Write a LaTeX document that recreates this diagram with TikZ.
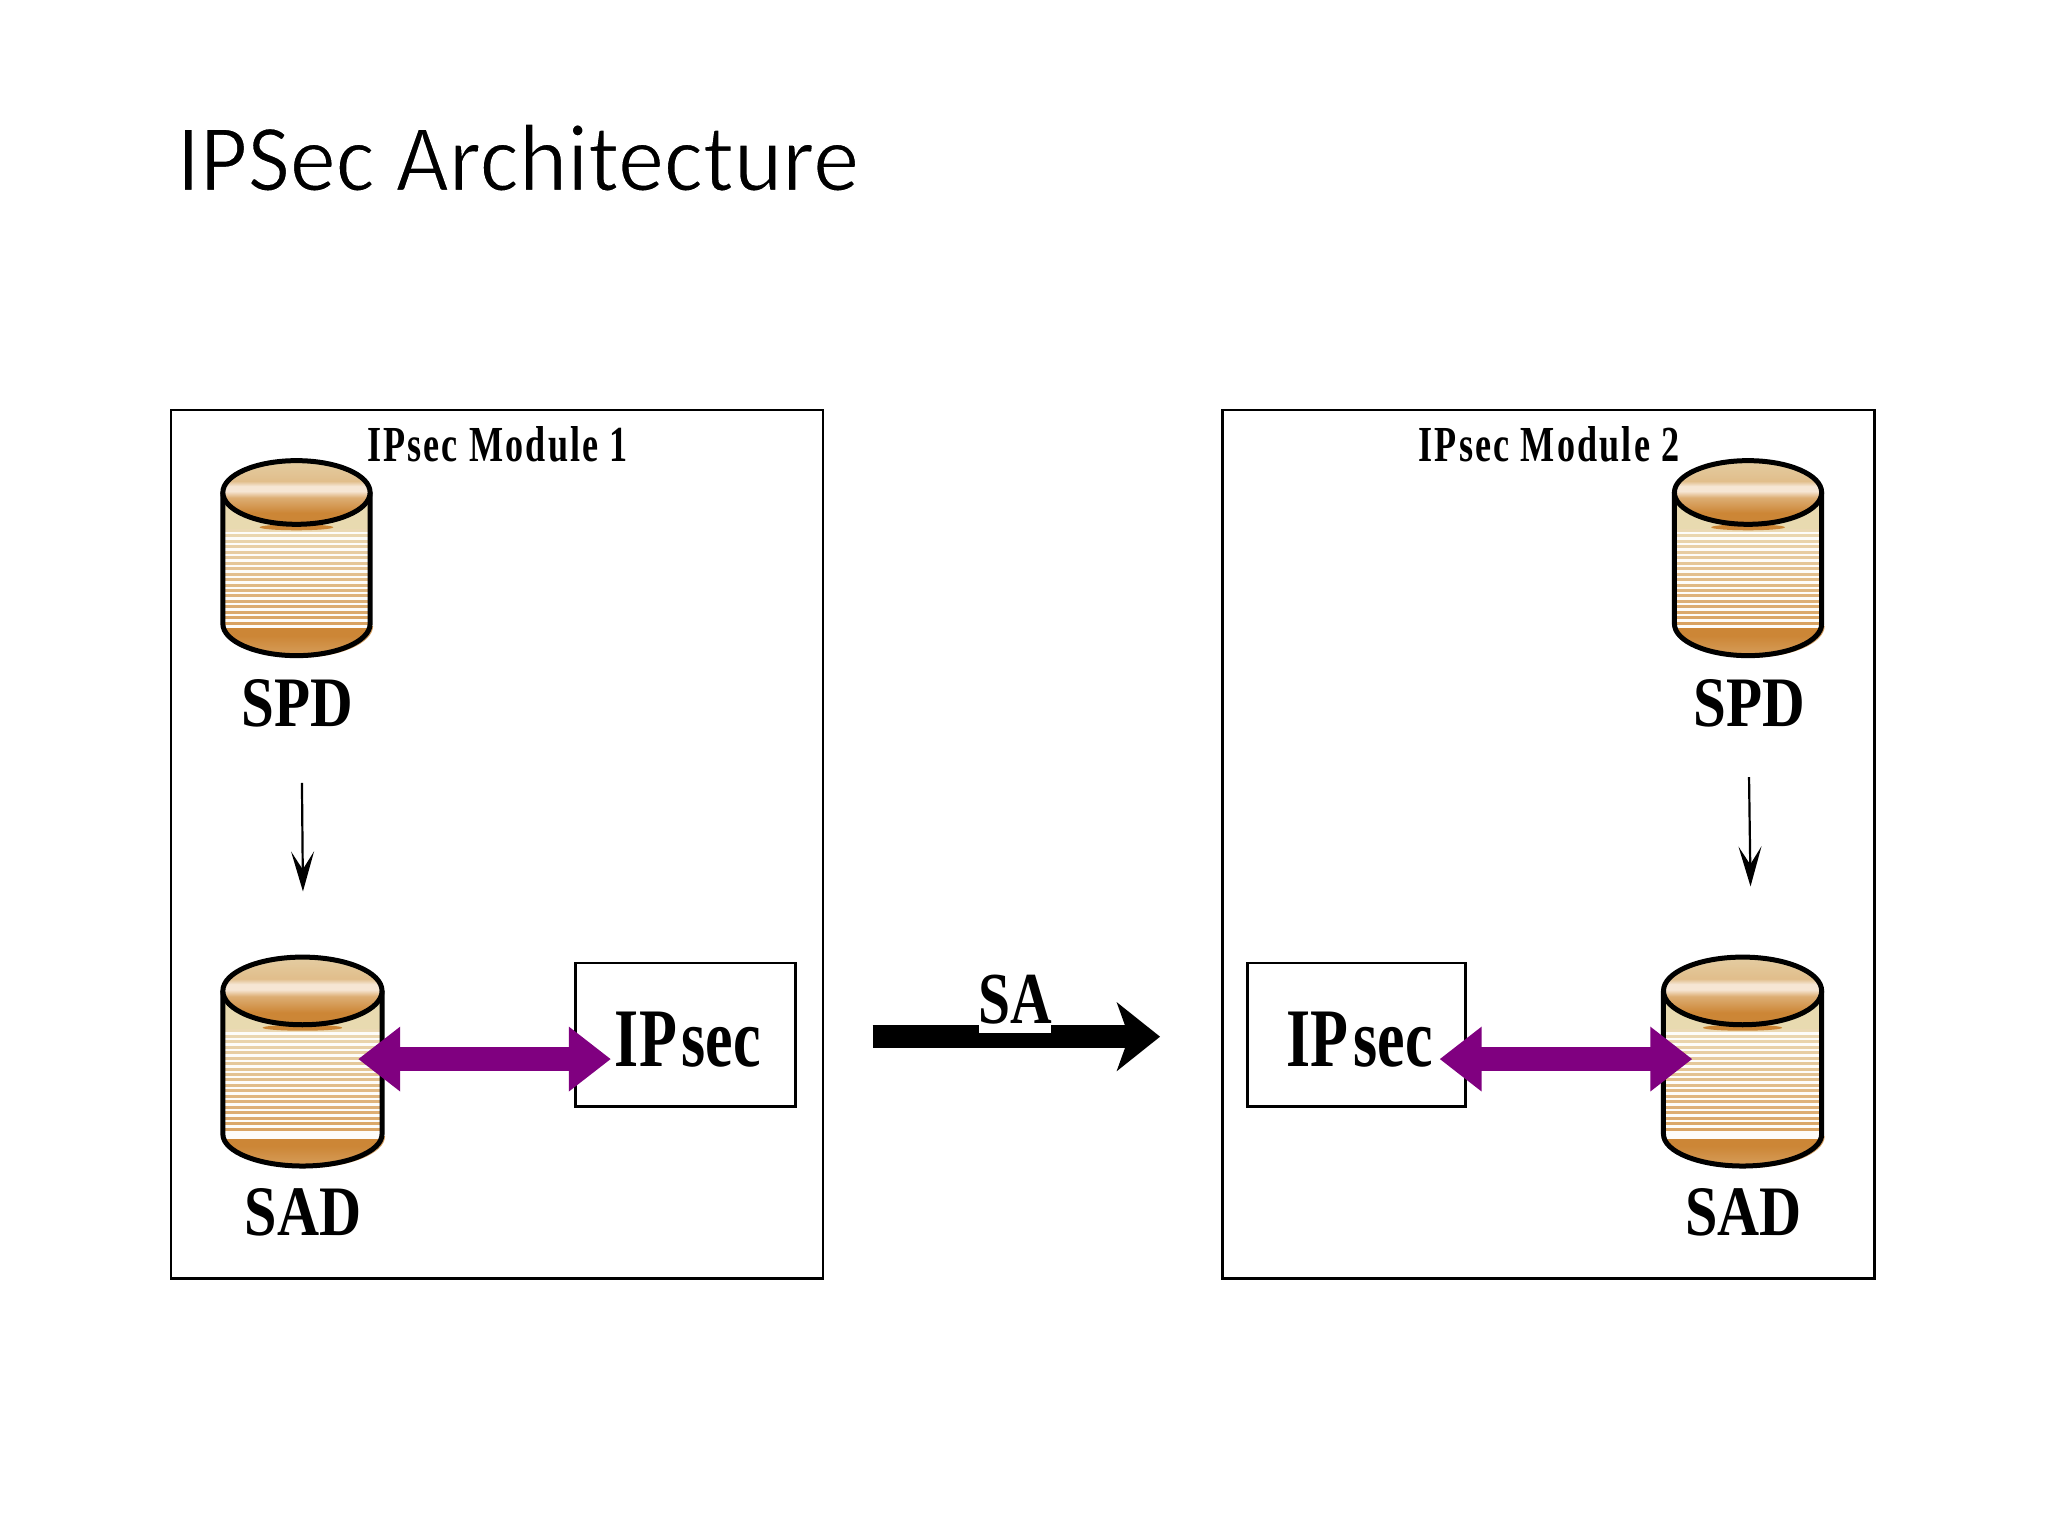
\documentclass[tikz,border=0pt]{standalone}
\usepackage{fontspec}
\usepackage{graphicx}
\usetikzlibrary{arrows.meta}
\setmainfont{Liberation Serif}
\newfontfamily\titlefont{Carlito}
\definecolor{cyltop}{HTML}{E4CDA2}
\definecolor{cyllight}{HTML}{F6E6D4}
\definecolor{cylmid}{HTML}{DDAE74}
\definecolor{cyldark}{HTML}{CC8636}
\definecolor{bodypale}{HTML}{E8DAB0}
\definecolor{stripehi}{HTML}{EBD9B4}
\definecolor{stripelo}{HTML}{D9A261}
\definecolor{purplearrow}{HTML}{800080}
\pgfdeclareverticalshading{lidshade}{100bp}{color(0bp)=(cyldark); color(25bp)=(cyldark); color(34bp)=(cyldark); color(46bp)=(cylmid); color(51bp)=(cyllight); color(55bp)=(cyllight); color(59bp)=(cylmid!50!cyltop); color(75bp)=(cyltop); color(100bp)=(cyltop)}
\pgfdeclareverticalshading{baseshade}{100bp}{color(0bp)=(cylmid!60!cyldark); color(25bp)=(cylmid!60!cyldark); color(62bp)=(cyldark); color(75bp)=(cyldark); color(100bp)=(cyldark)}
\tikzset{
  frame/.style={draw=black,line width=2.4pt,fill=none},
  procbox/.style={draw=black,line width=2.4pt,fill=none,inner sep=0pt},
  lbl/.style={inner sep=0pt,font=\bfseries},
  cylline/.style={draw=black,line width=5pt,line join=round},
  flow/.style={line width=23.5pt,draw=purplearrow,{Triangle[length=42pt,width=62pt]}-{Triangle[length=42pt,width=62pt]}},
  thinarrow/.style={line width=2.2pt,draw=black,-{Stealth[length=40pt,width=23pt,inset=18pt]}},
  bigarrow/.style={line width=23pt,draw=black,-{Stealth[length=43pt,width=68pt,inset=12pt]}},
}
% width, height, text
\newcommand{\fittext}[3]{\resizebox{#1pt}{#2pt}{#3}}
% thins the strokes of a text, which stays real text
\newcommand{\thintext}[1]{\special{pdf:code q 2 Tr 0.16 w 1 1 1 RG}#1\special{pdf:code Q}}
% x1, x2, ytop, ylidcentre, ysidebottom, ybottom
\newcommand{\drumshape}[6]{%
  \pgfmathsetmacro\cx{(#1+#2)/2}%
  \pgfmathsetmacro\rx{(#2-#1)/2}%
  \pgfmathsetmacro\ry{#4-#3}%
  \pgfmathsetmacro\kx{0.55*\rx}%
  \pgfmathsetmacro\ky{0.55*(#6-#5)}%
  \pgfmathsetmacro\ya{#5+\ky}%
  % soft shadow
  \fill[cyldark!80!white] (#1+3,#5+2) .. controls (#1+3,\ya+2) and (\cx-\kx+3,#6+2) .. (\cx+3,#6+2) .. controls (\cx+\kx+3,#6+2) and (#2+3,\ya+2) .. (#2+3,#5+2) -- cycle;
  % body with stripes
  \begin{scope}
    \clip (#1,#4) -- (#1,#5) .. controls (#1,\ya) and (\cx-\kx,#6) .. (\cx,#6) .. controls (\cx+\kx,#6) and (#2,\ya) .. (#2,#5) -- (#2,#4) -- cycle;
    \fill[white!92!stripehi] (#1,#4) rectangle (#2,#6);
    \fill[bodypale] (#1,#4) rectangle (#2,#4+\ry+6);
    \pgfmathsetmacro\ystart{#4+\ry+6}%
    \pgfmathsetmacro\ysecond{\ystart+5.5}%
    \foreach \yy in {\ystart,\ysecond,...,#5}{%
      \pgfmathsetmacro\pc{min(100,max(0,100*(\yy-\ystart)/(#5-\ystart)))}%
      \draw[line width=3pt,draw=stripelo!\pc!stripehi] (#1,\yy) -- (#2,\yy);
    }
    \shade[shading=baseshade] (#1,#5+5) rectangle (#2,#6);
  \end{scope}
  \draw[cylline] (#1,#4) -- (#1,#5) .. controls (#1,\ya) and (\cx-\kx,#6) .. (\cx,#6) .. controls (\cx+\kx,#6) and (#2,\ya) .. (#2,#5) -- (#2,#4);
  % lid
  \fill[cyldark] (\cx,#4+\ry+3) ellipse [x radius=0.5*\rx, y radius=3];
  \shade[shading=lidshade] (\cx,#4) ellipse [x radius=\rx, y radius=\ry];
  \draw[cylline] (\cx,#4) ellipse [x radius=\rx, y radius=\ry];
}
\begin{document}
\begin{tikzpicture}[x=0.9949pt,y=-0.9949pt]
\useasboundingbox (0,0) rectangle (2058.5,1543.9);
\fill[white] (0,0) rectangle (2058.5,1543.9);

\node[inner sep=0pt] (title) at (520.5,158.5) {\titlefont\fittext{682}{66.7}{\thintext{IPSec Architecture}}};

% module frames
\node[frame,minimum width=652pt,minimum height=868.5pt,inner sep=0pt] (mod1) at (499.5,848.5) {};
\node[frame,minimum width=652pt,minimum height=868.5pt,inner sep=0pt] (mod2) at (1556.5,848.5) {};
\node[lbl] (mod1t) at (500,447) {\addfontfeatures{LetterSpace=6}\fittext{260.7}{35}{IPsec Module 1}};
\node[lbl] (mod2t) at (1557,447) {\addfontfeatures{LetterSpace=6}\fittext{260.7}{35}{IPsec Module 2}};

% IPsec boxes
\node[procbox,minimum width=220pt,minimum height=143.3pt] (ip1) at (689,1040) {};
\node[procbox,minimum width=218pt,minimum height=143.3pt] (ip2) at (1363.5,1040) {};
\node[lbl] (ip1t) at (691.5,1045) {\fittext{146}{54.5}{IP\kern.08em sec}};
\node[lbl] (ip2t) at (1366.5,1045) {\fittext{146}{54.5}{IP\kern.08em sec}};

% databases
\drumshape{224}{372}{463}{495}{627}{659}
\drumshape{1683}{1831}{463}{495}{627}{659}
\drumshape{224}{384}{962}{996}{1140}{1172}
\drumshape{1672}{1831}{962}{996}{1140}{1172}

\node[lbl] (spd1) at (298.5,707) {\fittext{111.5}{47}{SPD}};
\node[lbl] (spd2) at (1758,707) {\fittext{111.5}{47}{SPD}};
\node[lbl] (sad1) at (304.5,1219) {\fittext{116.5}{47}{SAD}};
\node[lbl] (sad2) at (1752.5,1219) {\fittext{116.5}{47}{SAD}};

% connectors
\coordinate (spd1out) at (303.5,787);
\coordinate (sad1in) at (304.5,896);
\coordinate (spd2out) at (1758,781);
\coordinate (sad2in) at (1759.5,891);
\draw[thinarrow] (spd1out) -- (sad1in);
\draw[thinarrow] (spd2out) -- (sad2in);

\coordinate (sad1port) at (360,1064.5);
\coordinate (ip1port) at (614,1064.5);
\coordinate (ip2port) at (1447,1064.5);
\coordinate (sad2port) at (1701,1064.5);
\draw[flow] (sad1port) -- (ip1port);
\draw[flow] (ip2port) -- (sad2port);

\coordinate (saStart) at (877,1042);
\coordinate (saEnd) at (1166,1042);
\draw[bigarrow] (saStart) -- (saEnd);
\fill[white] (984,1028) rectangle (1056,1038);
\node[lbl] (sa) at (1020,1005) {\fittext{73.6}{48.5}{SA}};
\end{tikzpicture}
\end{document}
